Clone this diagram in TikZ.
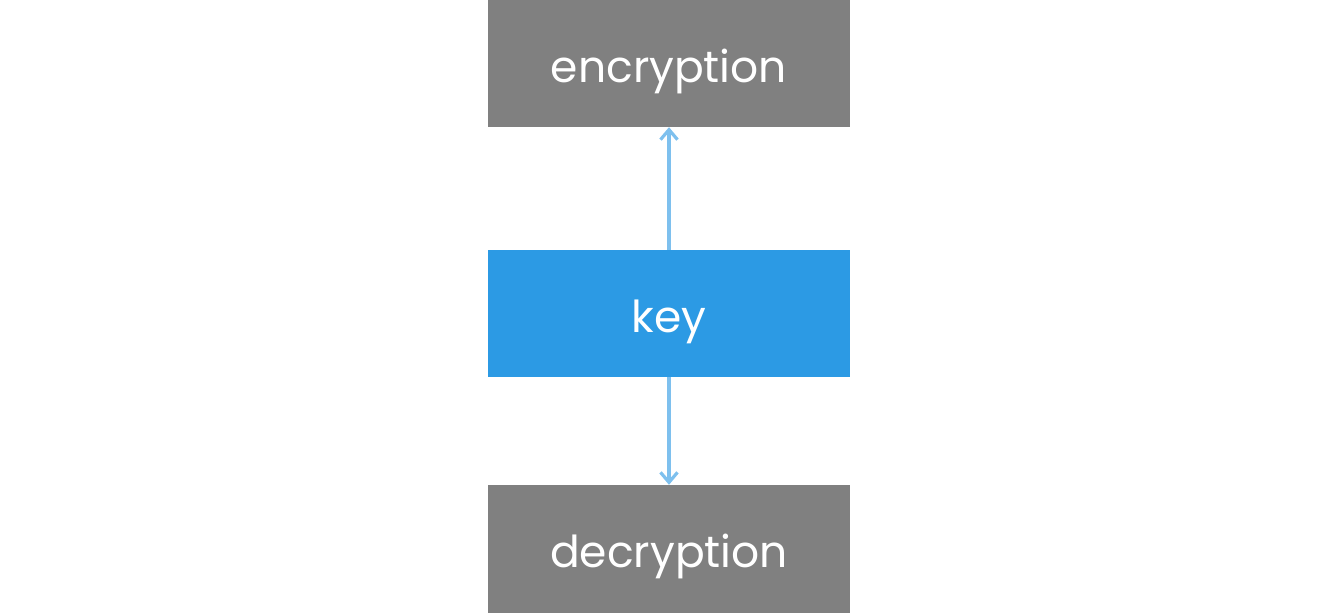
\documentclass[tikz,border=0pt]{standalone}
\usepackage{fontspec}
\setmainfont{Poppins}
\usetikzlibrary{arrows.meta}
\definecolor{boxgray}{RGB}{128,128,128}
\definecolor{keyblue}{RGB}{44,154,228}
\definecolor{arrowblue}{RGB}{126,192,238}
\tikzset{
  box/.style={minimum width=362pt, minimum height=127pt, inner sep=0pt, text=white,
    text height=37pt, text depth=0pt, font=\fontsize{44}{50}\selectfont},
  link/.style={draw=arrowblue, line width=3.2pt, -{Straight Barb[length=10pt,width=17pt,line width=3.2pt]}}
}
\begin{document}
\begin{tikzpicture}[x=1pt,y=-1pt]
\useasboundingbox (0,0) rectangle (1338,613);
\node[box, fill=boxgray] (enc) at (669,63.5) {encryption};
\node[box, fill=keyblue] (key) at (669,313.5) {key};
\node[box, fill=boxgray, minimum height=128pt] (dec) at (669,549) {decryption};
\draw[link] (key.north) -- (enc.south);
\draw[link] (key.south) -- (dec.north);
\end{tikzpicture}
\end{document}
